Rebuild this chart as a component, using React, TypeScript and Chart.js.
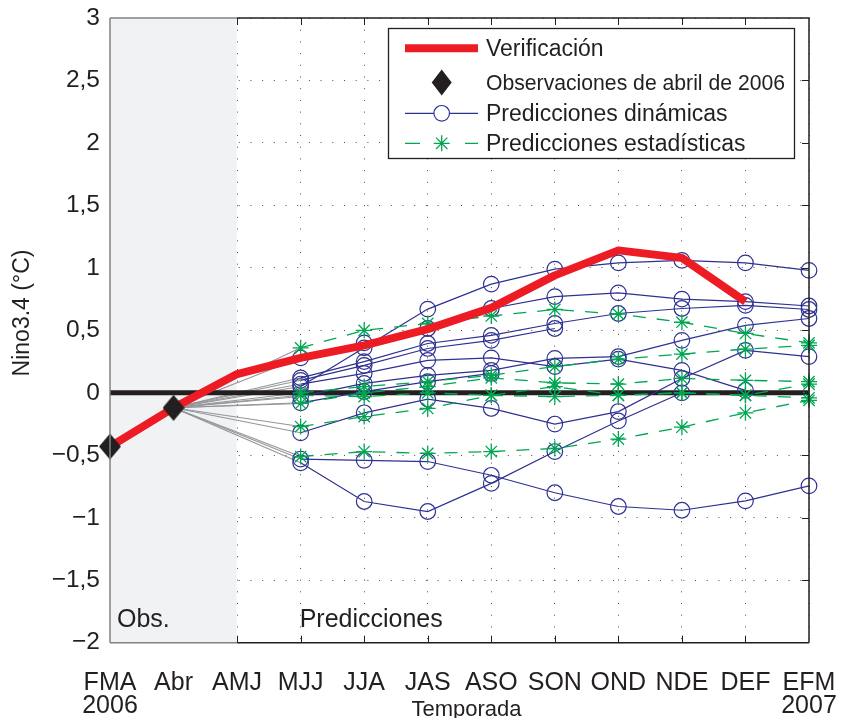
import React, { useEffect, useRef } from "react";
import { Chart, registerables } from "chart.js";

Chart.register(...registerables);

// ---------- data ----------
const categories: (string | string[])[] = [
  ["FMA", "2006"], "Abr", "AMJ", "MJJ", "JJA", "JAS", "ASO", "SON", "OND", "NDE", "DEF", ["EFM", "2007"],
];
const yTickValues = [-2, -1.5, -1, -0.5, 0, 0.5, 1, 1.5, 2, 2.5, 3];

const verificacion = [-0.43, -0.12, 0.15, 0.28, 0.38, 0.51, 0.68, 0.94, 1.14, 1.08, 0.73, null];
const observaciones = [-0.43, -0.12];
const obsAbril = -0.12;

// Dynamic model forecasts, starting at MJJ
const dinA = [0.05, 0.36, 0.67, 0.87, 0.99, 1.04, 1.06, 1.04, 0.98];
const dinB = [0.28, 0.40, 0.515, 0.675, 0.77, 0.80, 0.75, 0.73, 0.695];
const dinC = [0.12, 0.25, 0.395, 0.46, 0.555, 0.635, 0.675, 0.70, 0.667];
const dinD = [0.10, 0.22, 0.355, 0.42, 0.515];
const dinE = [0.07, 0.155, 0.26, 0.28, 0.21, 0.27, 0.18, 0.02];
const dinF = [-0.03, 0.075, 0.14, 0.18, 0.275, 0.29, 0.42, 0.54, 0.595];
const dinG = [-0.08, 0.01, 0.09, 0.155];
const dinH = [-0.32, -0.16, -0.05, -0.125, -0.25, -0.15, 0.115, 0.34, 0.29];
const dinI = [-0.53, -0.54, -0.55, -0.66, -0.80, -0.91, -0.94, -0.865, -0.745];
const dinJ = [-0.56, -0.87, -0.95, -0.725, -0.47, -0.225, 0.0];

// Statistical model forecasts, starting at MJJ
const estA = [0.36, 0.50, 0.555, 0.615, 0.667, 0.63, 0.565, 0.475, 0.40];
const estB = [-0.51, -0.47, -0.485, -0.47, -0.445, -0.37, -0.275, -0.16, -0.06];
const estC = [-0.27, -0.19, -0.125, -0.02, -0.03, -0.02, 0.0, -0.02, -0.04];
const estD = [0.0, 0.05, 0.09, 0.14, 0.21, 0.27, 0.31, 0.35, 0.38];
const estE = [-0.085, 0.0, 0.05, 0.12, 0.08, 0.07, 0.115, 0.10, 0.09];
const estF = [-0.02, -0.03, 0.0, -0.02, 0.05, -0.02, 0.0, -0.02, 0.07];

const dinamicas = [dinA, dinB, dinC, dinD, dinE, dinF, dinG, dinH, dinI, dinJ];
const estadisticas = [estA, estB, estC, estD, estE, estF];

const FORECAST_START = 3; // MJJ
const OBS_INDEX = 1; // Abr
const SHADE_END = 2; // AMJ

// ---------- style ----------
const FONT = "'Liberation Sans', Arial, Helvetica, sans-serif";
const INK = "#231f20";
const RED = "#ed1c24";
const BLUE = "#2e3192";
const GREEN = "#00a651";
const GRAY = "#939598";
const SHADE = "#f1f2f4";

function padForecast(vals: number[]) {
  const arr: (number | null)[] = categories.map(() => null);
  vals.forEach((v, i) => (arr[FORECAST_START + i] = v));
  return arr;
}
function grayLink(vals: number[]) {
  const arr: (number | null)[] = categories.map(() => null);
  arr[OBS_INDEX] = obsAbril;
  arr[FORECAST_START] = vals[0];
  return arr;
}
function padObs(vals: number[]) {
  const arr: (number | null)[] = categories.map(() => null);
  vals.forEach((v, i) => (arr[i] = v));
  return arr;
}

function makeDiamond(w: number, h: number) {
  const c = document.createElement("canvas");
  c.width = w;
  c.height = h;
  const g = c.getContext("2d")!;
  g.fillStyle = INK;
  g.beginPath();
  g.moveTo(w / 2, 0);
  g.lineTo(w, h / 2);
  g.lineTo(w / 2, h);
  g.lineTo(0, h / 2);
  g.closePath();
  g.fill();
  return c;
}

function fmt(v: number) {
  if (v === 0) return "0";
  const s = Math.abs(v).toString().replace(".", ",");
  return v < 0 ? "\u2212" + s : s;
}

const decorPlugin = {
  id: "decor",
  beforeDatasetsDraw(chart: any) {
    const { ctx, chartArea, scales } = chart;
    const xEnd = scales.x.getPixelForValue(SHADE_END);
    ctx.save();
    ctx.fillStyle = SHADE;
    ctx.fillRect(chartArea.left, chartArea.top, xEnd - chartArea.left - 0.5, chartArea.bottom - chartArea.top);
    ctx.restore();
  },
  afterDatasetsDraw(chart: any) {
    const { ctx, chartArea, scales } = chart;
    const { left, right, top, bottom } = chartArea;
    const xs = scales.x;
    const ys = scales.y;
    const xShade = xs.getPixelForValue(SHADE_END);
    ctx.save();
    // inward ticks
    ctx.strokeStyle = INK;
    ctx.lineWidth = 1;
    ctx.beginPath();
    for (let i = SHADE_END; i < categories.length - 1; i++) {
      const px = Math.round(xs.getPixelForValue(i)) + 0.5;
      ctx.moveTo(px, top);
      ctx.lineTo(px, top + 7);
      ctx.moveTo(px, bottom);
      ctx.lineTo(px, bottom - 7);
    }
    yTickValues.slice(1, -1).forEach((v) => {
      const py = Math.round(ys.getPixelForValue(v)) + 0.5;
      ctx.moveTo(right, py);
      ctx.lineTo(right - 7, py);
    });
    ctx.stroke();
    // box
    ctx.lineWidth = 1.5;
    ctx.strokeStyle = "#808285";
    ctx.beginPath();
    ctx.moveTo(left, top);
    ctx.lineTo(left, bottom);
    ctx.moveTo(left, top);
    ctx.lineTo(xShade, top);
    ctx.moveTo(left, bottom);
    ctx.lineTo(xShade, bottom);
    ctx.stroke();
    ctx.strokeStyle = INK;
    ctx.beginPath();
    ctx.moveTo(xShade, top);
    ctx.lineTo(right, top);
    ctx.lineTo(right, bottom);
    ctx.moveTo(xShade, bottom);
    ctx.lineTo(right, bottom);
    ctx.stroke();

    // texts
    ctx.fillStyle = INK;
    ctx.font = `25px ${FONT}`;
    ctx.textBaseline = "alphabetic";
    ctx.textAlign = "left";
    ctx.fillText("Obs.", left + 7, bottom - 16);
    ctx.fillText("Predicciones", xs.getPixelForValue(FORECAST_START) - 1, bottom - 16);
    ctx.font = `22px ${FONT}`;
    ctx.textAlign = "center";
    ctx.fillText("Temporada", (left + right) / 2 + 7, 716);
    ctx.save();
    ctx.translate(23, 313);
    ctx.rotate(-Math.PI / 2);
    ctx.font = `23px ${FONT}`;
    ctx.textBaseline = "middle";
    ctx.fillText("Nino3.4 (\u00b0C)", 0, 0);
    ctx.restore();

    // legend
    const lx = 388.5, ly = 28.5, lw = 406, lh = 130;
    ctx.fillStyle = "#ffffff";
    ctx.fillRect(lx, ly, lw, lh);
    ctx.strokeStyle = INK;
    ctx.lineWidth = 1.3;
    ctx.strokeRect(lx, ly, lw, lh);
    const x0 = 405, x1 = 478, xm = 441.7, tx = 486;
    const rows = [48.3, 82.6, 113.3, 143.3];
    // row 1
    ctx.strokeStyle = RED;
    ctx.lineWidth = 8;
    ctx.beginPath();
    ctx.moveTo(x0, rows[0]);
    ctx.lineTo(x1, rows[0]);
    ctx.stroke();
    // row 2
    ctx.fillStyle = INK;
    ctx.beginPath();
    ctx.moveTo(xm, rows[1] - 13);
    ctx.lineTo(xm + 10, rows[1]);
    ctx.lineTo(xm, rows[1] + 13);
    ctx.lineTo(xm - 10, rows[1]);
    ctx.closePath();
    ctx.fill();
    // row 3
    ctx.strokeStyle = BLUE;
    ctx.lineWidth = 1.2;
    ctx.beginPath();
    ctx.moveTo(x0, rows[2]);
    ctx.lineTo(x1, rows[2]);
    ctx.stroke();
    ctx.fillStyle = "#ffffff";
    ctx.beginPath();
    ctx.arc(xm, rows[2], 7.8, 0, Math.PI * 2);
    ctx.fill();
    ctx.stroke();
    // row 4
    ctx.strokeStyle = GREEN;
    ctx.lineWidth = 1.3;
    ctx.beginPath();
    ctx.moveTo(x0, rows[3]);
    ctx.lineTo(x0 + 15, rows[3]);
    ctx.moveTo(x1 - 13, rows[3]);
    ctx.lineTo(x1, rows[3]);
    const r = 8, d = r * Math.SQRT1_2;
    ctx.moveTo(xm - r, rows[3]);
    ctx.lineTo(xm + r, rows[3]);
    ctx.moveTo(xm, rows[3] - r);
    ctx.lineTo(xm, rows[3] + r);
    ctx.moveTo(xm - d, rows[3] - d);
    ctx.lineTo(xm + d, rows[3] + d);
    ctx.moveTo(xm - d, rows[3] + d);
    ctx.lineTo(xm + d, rows[3] - d);
    ctx.stroke();
    // legend texts
    ctx.fillStyle = INK;
    ctx.font = `23px ${FONT}`;
    ctx.textAlign = "left";
    ctx.textBaseline = "middle";
    ctx.fillText("Verificación", tx, rows[0] + 1, 121);
    ctx.font = `22.5px ${FONT}`;
    ctx.fillText("Observaciones de abril de 2006", tx, rows[1] + 1, 299);
    ctx.font = `23px ${FONT}`;
    ctx.fillText("Predicciones dinámicas", tx, rows[2] + 1, 250);
    ctx.fillText("Predicciones estadísticas", tx, rows[3] + 1, 265);
    ctx.restore();
  },
};

export default function App() {
  const ref = useRef<HTMLCanvasElement | null>(null);

  useEffect(() => {
    document.body.style.margin = "0";
    const canvas = ref.current!;
    const diamond = makeDiamond(22, 26);

    const datasets: any[] = [];
    // gray links from April observation
    [...dinamicas, ...estadisticas].forEach((vals) => {
      datasets.push({
        data: grayLink(vals),
        borderColor: GRAY,
        borderWidth: 1.1,
        pointRadius: 0,
        spanGaps: true,
        order: 100,
      });
    });
    // zero line
    datasets.push({
      data: categories.map(() => 0),
      borderColor: INK,
      borderWidth: 5,
      pointRadius: 0,
      order: 90,
    });
    dinamicas.forEach((vals, i) => {
      datasets.push({
        label: i === 0 ? "Predicciones dinámicas" : undefined,
        data: padForecast(vals),
        borderColor: BLUE,
        borderWidth: 1.2,
        pointStyle: "circle",
        pointRadius: 7.8,
        pointBorderWidth: 1.2,
        pointBorderColor: BLUE,
        pointBackgroundColor: "rgba(0,0,0,0)",
        order: 50,
      });
    });
    estadisticas.forEach((vals, i) => {
      datasets.push({
        label: i === 0 ? "Predicciones estadísticas" : undefined,
        data: padForecast(vals),
        borderColor: GREEN,
        borderWidth: 1.3,
        borderDash: [13, 11],
        pointStyle: "star",
        pointRadius: 8,
        pointBorderWidth: 1.3,
        pointBorderColor: GREEN,
        order: 40,
      });
    });
    datasets.push({
      label: "Verificación",
      data: verificacion,
      borderColor: RED,
      borderWidth: 8,
      borderJoinStyle: "round",
      pointRadius: 0,
      order: 20,
    });
    datasets.push({
      label: "Observaciones de abril de 2006",
      data: padObs(observaciones),
      showLine: false,
      pointStyle: diamond,
      pointRadius: 12,
      order: 10,
    });

    const chart = new Chart(canvas, {
      type: "line",
      data: { labels: categories as any, datasets },
      options: {
        responsive: false,
        animation: false,
        events: [],
        layout: { padding: { left: 0, right: 35, top: 18, bottom: 0 } },
        plugins: { legend: { display: false }, tooltip: { enabled: false } },
        scales: {
          x: {
            type: "category",
            offset: false,
            afterFit: (s: any) => {
              s.height = 75.3;
              s.paddingLeft = 0;
              s.paddingRight = 0;
              s.paddingTop = 0;
              s.paddingBottom = 0;
            },
            grid: { color: "#4d4d4f", lineWidth: 1, drawTicks: false },
            border: { display: false, dash: [1, 10.7] },
            ticks: {
              autoSkip: false,
              maxRotation: 0,
              minRotation: 0,
              padding: 29,
              color: INK,
              font: { family: FONT, size: 25, lineHeight: 0.92 },
            },
          },
          y: {
            type: "linear",
            min: -2,
            max: 3,
            afterFit: (s: any) => {
              s.width = 110;
              s.paddingLeft = 0;
              s.paddingRight = 0;
              s.paddingTop = 0;
              s.paddingBottom = 0;
            },
            afterBuildTicks: (s: any) => {
              s.ticks = yTickValues.map((v) => ({ value: v }));
            },
            grid: { color: "#4d4d4f", lineWidth: 1, drawTicks: false },
            border: { display: false, dash: [1, 10.7] },
            ticks: {
              padding: 10,
              color: INK,
              font: { family: FONT, size: 24.5 },
              callback: (v: any) => fmt(Number(v)),
            },
          },
        },
      },
      plugins: [decorPlugin],
    });
    return () => chart.destroy();
  }, []);

  return (
    <div style={{ position: "fixed", left: 0, top: 0, width: 844, height: 718, background: "#fff" }}>
      <canvas ref={ref} width={844} height={718} style={{ width: 844, height: 718, display: "block" }} />
    </div>
  );
}
